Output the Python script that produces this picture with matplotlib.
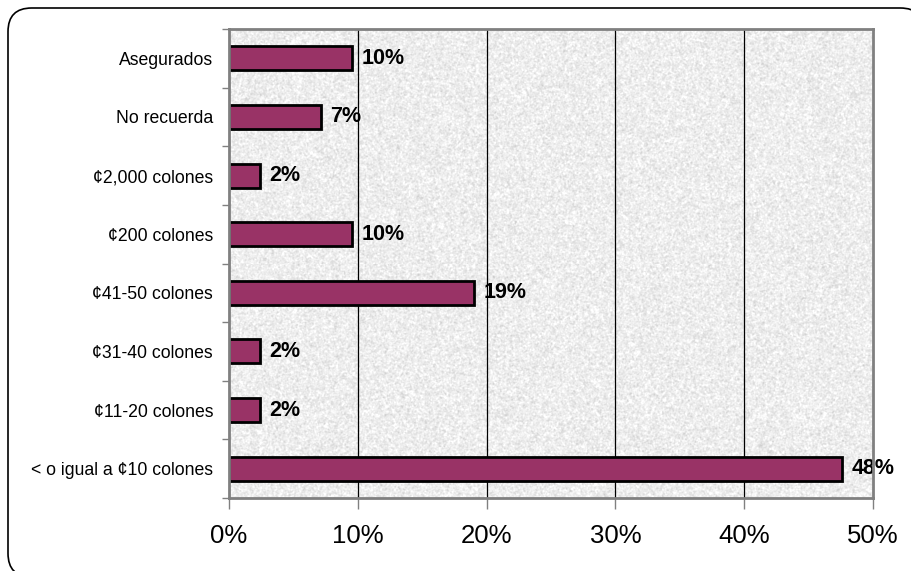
import numpy as np
import matplotlib.pyplot as plt
from matplotlib.patches import FancyBboxPatch
from matplotlib.ticker import MultipleLocator

plt.rcParams['font.family'] = ['Liberation Sans', 'DejaVu Sans']

# categories from top to bottom, share of respondents in percent
categories = ["Asegurados", "No recuerda", "¢2,000 colones", "¢200 colones",
              "¢41-50 colones", "¢31-40 colones", "¢11-20 colones",
              "< o igual a ¢10 colones"]
percent = [9.52, 7.14, 2.38, 9.52, 19.05, 2.38, 2.38, 47.62]
xticks = [0, 10, 20, 30, 40, 50]

fig = plt.figure(figsize=(9.11, 5.71), dpi=100)

# rounded frame around the whole chart
frame = FancyBboxPatch((8 / 911, -6 / 571), 916 / 911, 569 / 571,
                       boxstyle="round,pad=0,rounding_size=0.026",
                       transform=fig.transFigure, facecolor="white",
                       edgecolor="black", linewidth=1.2, zorder=-5,
                       mutation_aspect=911 / 571)
fig.patches.append(frame)

ax = fig.add_axes([229 / 911, 73 / 571, 644 / 911, 469 / 571])

# fine grainy grey backdrop of the plot area
rng = np.random.default_rng(7)
grain = rng.normal(0.0, 1.0, (470, 645))
k = np.array([0.2, 0.6, 0.2])
grain = np.apply_along_axis(lambda r: np.convolve(r, k, mode="same"), 1, grain)
grain = np.apply_along_axis(lambda c: np.convolve(c, k, mode="same"), 0, grain)
tex = np.clip(0.93 + 0.07 * grain, 0.72, 1.0)
ax.imshow(tex, cmap="gray", vmin=0, vmax=1, extent=[0, 50, -0.5, 7.5],
          aspect="auto", zorder=0, interpolation="nearest")

y = np.arange(len(categories))
ax.barh(y, percent, height=0.41, color="#993366", edgecolor="black",
        linewidth=2, zorder=3)

for yi, v in zip(y, percent):
    ax.text(v + 0.75, yi, f"{round(v)}%", va="center", ha="left",
            fontsize=15.5, fontweight="bold", zorder=4)

ax.set_xlim(0, 50)
ax.set_ylim(7.5, -0.5)
ax.set_xticks(xticks)
ax.set_xticklabels([f"{t}%" for t in xticks], fontsize=18.5)
ax.set_yticks(y)
ax.set_yticklabels(categories, fontsize=12.7)
ax.yaxis.set_minor_locator(MultipleLocator(1, offset=0.5))
ax.tick_params(axis="y", which="major", length=0, pad=11.5)
ax.tick_params(axis="y", which="minor", length=5, width=1, color="#808080")
ax.tick_params(axis="x", length=8, width=1, color="#808080", pad=11)

for x in xticks[1:-1]:
    ax.axvline(x, color="black", linewidth=0.9, zorder=2)

for s in ax.spines.values():
    s.set_color("#808080")
    s.set_linewidth(2)
    s.set_zorder(5)

fig.savefig("out.png", dpi=100)
